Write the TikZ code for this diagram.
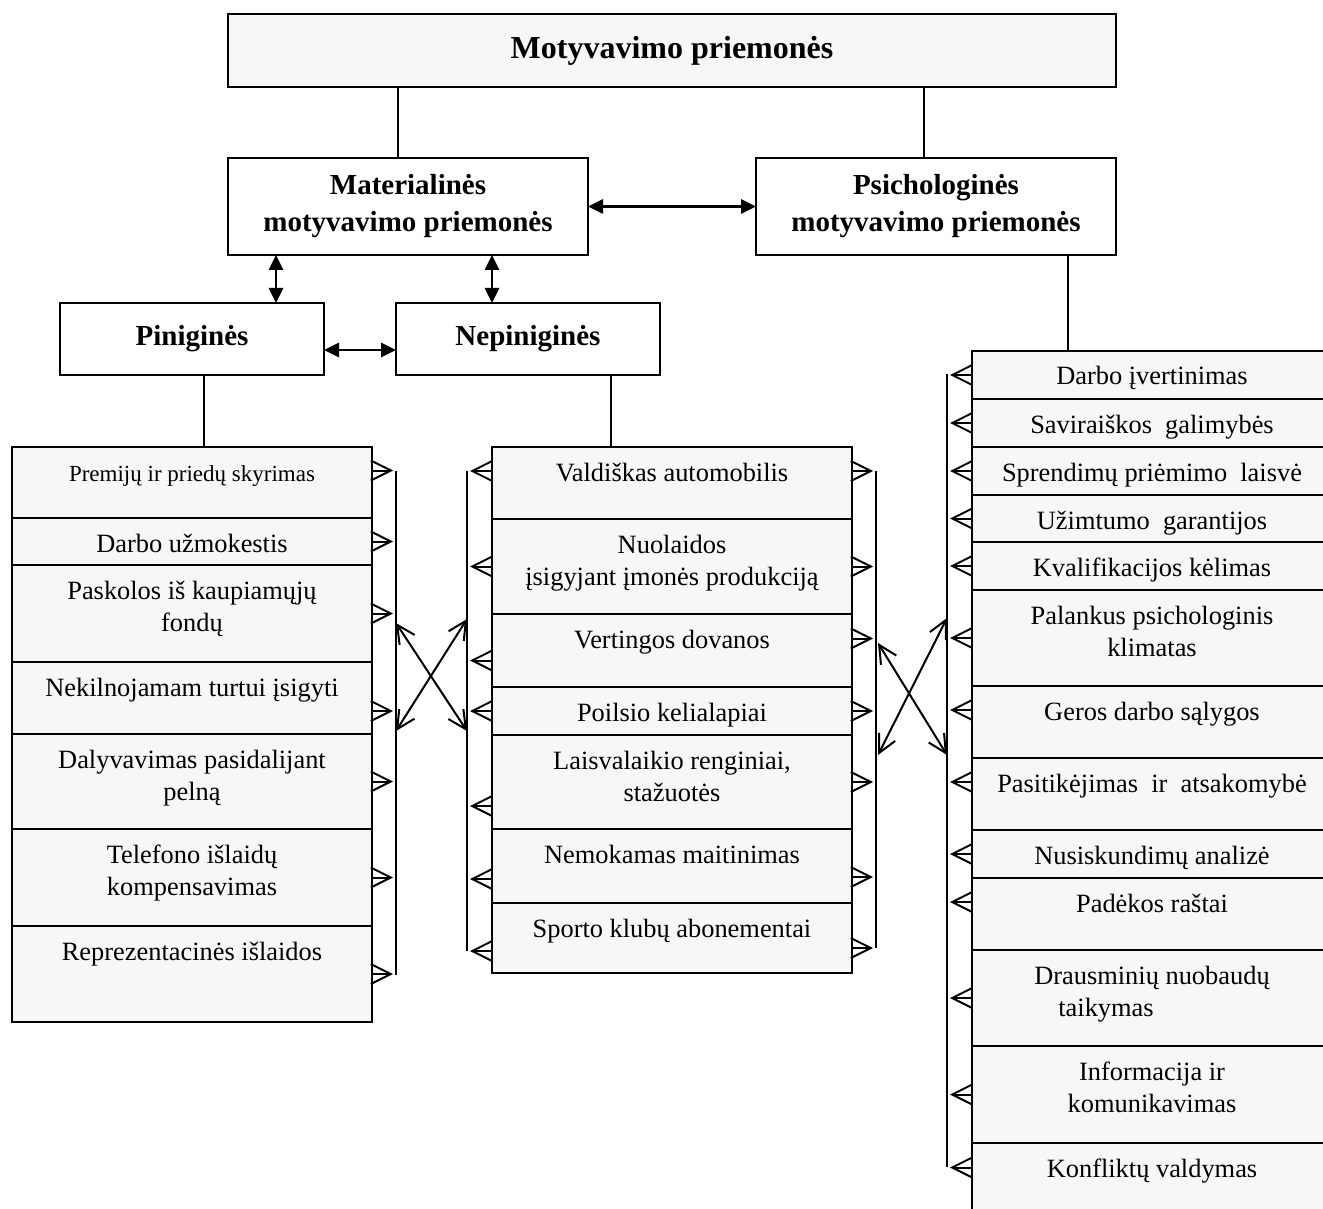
\documentclass[tikz,border=0pt]{standalone}
\usepackage{fontspec}
\setmainfont{Liberation Serif}
\usetikzlibrary{positioning,arrows.meta}
\definecolor{cellgray}{HTML}{F7F7F7}

\begin{document}
\begin{tikzpicture}[x=0.5pt, y=-0.5pt,
  head/.style={draw, line width=1pt, outer sep=0pt, align=center, font=\fontsize{14.5pt}{18.5pt}\selectfont\bfseries},
  cell/.style={draw, line width=1pt, fill=cellgray, inner sep=0pt, outer sep=0pt, anchor=north,
    font=\fontsize{13.2pt}{16pt}\selectfont,
    execute at begin node={\begin{minipage}[t][#1][t]{180pt}\centering\rule{0pt}{17pt}},
    execute at end node={\end{minipage}}},
  link/.style={line width=0.75pt},
  both/.style={{Triangle[length=7.5pt,width=7pt]}-{Triangle[length=7.5pt,width=7pt]}, line width=1.3pt},
  feed/.style={-{Straight Barb[length=10pt,width=10pt]}, line width=1pt, shorten >=1.5pt},
  cross/.style={{Straight Barb[length=9pt,width=9pt]}-{Straight Barb[length=9pt,width=9pt]}, line width=1pt},
  bus/.style={line width=1pt}]

  \useasboundingbox (0,0) rectangle (1323,1209);

  % Top levels
  \node[head, fill=cellgray, minimum width=444pt, minimum height=36.5pt, font=\fontsize{16pt}{19pt}\selectfont\bfseries] (top) at (672,50.5) {Motyvavimo priemonės};
  \node[head, minimum width=180pt, minimum height=48.5pt] (mat) at (408,206.5) {Materialinės\\motyvavimo priemonės};
  \node[head, minimum width=180pt, minimum height=48.5pt] (psi) at (936,206.5) {Psichologinės\\motyvavimo priemonės};
  \node[head, minimum width=132pt, minimum height=36pt] (pin) at (192,339) {Piniginės};
  \node[head, minimum width=132pt, minimum height=36pt] (nep) at (528,339) {Nepiniginės};

  % Piniginės column
  \node[cell=35.5pt, font=\fontsize{11.5pt}{14pt}\selectfont] (L1) at (192,447) {Premijų ir priedų skyrimas};
  \node[cell=23.5pt, below=0pt of L1] (L2) {Darbo užmokestis};
  \node[cell=48.5pt, below=0pt of L2] (L3) {Paskolos iš kaupiamųjų\\fondų};
  \node[cell=36pt, below=0pt of L3] (L4) {Nekilnojamam turtui įsigyti};
  \node[cell=47.5pt, below=0pt of L4] (L5) {Dalyvavimas pasidalijant\\pelną};
  \node[cell=48.5pt, below=0pt of L5] (L6) {Telefono išlaidų\\kompensavimas};
  \node[cell=48pt, below=0pt of L6] (L7) {Reprezentacinės išlaidos};

  % Nepiniginės column
  \node[cell=36pt] (M1) at (672,447) {Valdiškas automobilis};
  \node[cell=47.5pt, below=0pt of M1] (M2) {Nuolaidos\\įsigyjant įmonės produkciją};
  \node[cell=36.5pt, below=0pt of M2] (M3) {Vertingos dovanos};
  \node[cell=24pt, below=0pt of M3] (M4) {Poilsio kelialapiai};
  \node[cell=47pt, below=0pt of M4] (M5) {Laisvalaikio renginiai,\\stažuotės};
  \node[cell=37pt, below=0pt of M5] (M6) {Nemokamas maitinimas};
  \node[cell=35pt, below=0pt of M6] (M7) {Sporto klubų abonementai};

  % Psichologinės column
  \node[cell=24pt] (R1) at (1152,351) {Darbo įvertinimas};
  \node[cell=24pt, below=0pt of R1] (R2) {Saviraiškos\ \ galimybės};
  \node[cell=24pt, below=0pt of R2] (R3) {Sprendimų priėmimo\ \ laisvė};
  \node[cell=23.5pt, below=0pt of R3] (R4) {Užimtumo\ \ garantijos};
  \node[cell=24pt, below=0pt of R4] (R5) {Kvalifikacijos kėlimas};
  \node[cell=48pt, below=0pt of R5] (R6) {Palankus psichologinis\\klimatas};
  \node[cell=36pt, below=0pt of R6] (R7) {Geros darbo sąlygos};
  \node[cell=36pt, below=0pt of R7] (R8) {Pasitikėjimas\ \ ir\ \ atsakomybė};
  \node[cell=24pt, below=0pt of R8] (R9) {Nusiskundimų analizė};
  \node[cell=36pt, below=0pt of R9] (R10) {Padėkos raštai};
  \node[cell=48pt, below=0pt of R10] (R11) {Drausminių nuobaudų\\taikymas\hspace*{46pt}\mbox{}};
  \node[cell=48.5pt, below=0pt of R11] (R12) {Informacija ir\\komunikavimas};
  \node[cell=36.5pt, below=0pt of R12] (R13) {Konfliktų valdymas};

  % Tree lines
  \draw[link] ([xshift=-5pt]mat.north) -- ([xshift=-5pt]mat.north |- top.south);
  \draw[link] ([xshift=-6pt]psi.north) -- ([xshift=-6pt]psi.north |- top.south);
  \draw[link] ([xshift=66pt]psi.south) -- ([xshift=66pt]psi.south |- R1.north);
  \draw[link] ([xshift=6pt]pin.south) -- ([xshift=6pt]pin.south |- L1.north);
  \draw[link] ([xshift=41.5pt]nep.south) -- ([xshift=41.5pt]nep.south |- M1.north);

  % Double arrows
  \draw[both] (mat.east) -- (psi.west);
  \draw[both] ([xshift=42pt]pin.north) -- ([xshift=42pt]pin.north |- mat.south);
  \draw[both] ([xshift=-18pt]nep.north) -- ([xshift=-18pt]nep.north |- mat.south);
  \draw[both] ([yshift=-5.5pt]pin.east) -- ([yshift=-5.5pt]pin.east -| nep.west);

  % Buses
  \coordinate (lbusT) at (396,471);
  \coordinate (lbusB) at (396,975);
  \coordinate (mlbusT) at (467,471);
  \coordinate (mlbusB) at (467,951);
  \coordinate (mrbusT) at (876,471);
  \coordinate (mrbusB) at (876,948);
  \coordinate (rbusT) at (947,374);
  \coordinate (rbusB) at (947,1167);
  \draw[bus] (lbusT) -- (lbusB);
  \draw[bus] (mlbusT) -- (mlbusB);
  \draw[bus] (mrbusT) -- (mrbusB);
  \draw[bus] (rbusT) -- (rbusB);

  % Left arrows
  \draw[feed] ([yshift=6pt]L1.east) -- ([yshift=6pt]L1.east -| lbusT);
  \draw[feed] (L2.east) -- (L2.east -| lbusT);
  \draw[feed] (L3.east) -- (L3.east -| lbusT);
  \draw[feed] ([yshift=-6.5pt]L4.east) -- ([yshift=-6.5pt]L4.east -| lbusT);
  \draw[feed] (L5.east) -- (L5.east -| lbusT);
  \draw[feed] (L6.east) -- (L6.east -| lbusT);
  \draw[feed] (L7.east) -- (L7.east -| lbusT);

  % Middle arrows, left side
  \draw[feed] ([yshift=6pt]M1.west) -- ([yshift=6pt]M1.west -| mlbusT);
  \draw[feed] (M2.west) -- (M2.west -| mlbusT);
  \draw[feed] ([yshift=-5pt]M3.west) -- ([yshift=-5pt]M3.west -| mlbusT);
  \draw[feed] (M4.west) -- (M4.west -| mlbusT);
  \draw[feed] ([yshift=-12pt]M5.west) -- ([yshift=-12pt]M5.west -| mlbusT);
  \draw[feed] ([yshift=-6.5pt]M6.west) -- ([yshift=-6.5pt]M6.west -| mlbusT);
  \draw[feed] ([yshift=-6.5pt]M7.west) -- ([yshift=-6.5pt]M7.west -| mlbusT);

  % Middle arrows, right side
  \draw[feed] ([yshift=6pt]M1.east) -- ([yshift=6pt]M1.east -| mrbusT);
  \draw[feed] (M2.east) -- (M2.east -| mrbusT);
  \draw[feed] ([yshift=6pt]M3.east) -- ([yshift=6pt]M3.east -| mrbusT);
  \draw[feed] (M4.east) -- (M4.east -| mrbusT);
  \draw[feed] (M5.east) -- (M5.east -| mrbusT);
  \draw[feed] ([yshift=-5.5pt]M6.east) -- ([yshift=-5.5pt]M6.east -| mrbusT);
  \draw[feed] ([yshift=-5pt]M7.east) -- ([yshift=-5pt]M7.east -| mrbusT);

  % Right arrows
  \draw[feed] (R1.west) -- (R1.west -| rbusT);
  \draw[feed] (R2.west) -- (R2.west -| rbusT);
  \draw[feed] (R3.west) -- (R3.west -| rbusT);
  \draw[feed] (R4.west) -- (R4.west -| rbusT);
  \draw[feed] (R5.west) -- (R5.west -| rbusT);
  \draw[feed] (R6.west) -- (R6.west -| rbusT);
  \draw[feed] ([yshift=6pt]R7.west) -- ([yshift=6pt]R7.west -| rbusT);
  \draw[feed] ([yshift=6pt]R8.west) -- ([yshift=6pt]R8.west -| rbusT);
  \draw[feed] (R9.west) -- (R9.west -| rbusT);
  \draw[feed] ([yshift=6pt]R10.west) -- ([yshift=6pt]R10.west -| rbusT);
  \draw[feed] (R11.west) -- (R11.west -| rbusT);
  \draw[feed] (R12.west) -- (R12.west -| rbusT);
  \draw[feed] ([yshift=6pt]R13.west) -- ([yshift=6pt]R13.west -| rbusT);

  % Crossed links between buses
  \coordinate (lx1) at (396,623);
  \coordinate (lx2) at (467,731);
  \coordinate (lx3) at (396,731);
  \coordinate (lx4) at (467,619);
  \coordinate (rx1) at (878,643);
  \coordinate (rx2) at (947,755);
  \coordinate (rx3) at (878,755);
  \coordinate (rx4) at (947,618);
  \draw[cross] (lx1) -- (lx2);
  \draw[cross] (lx3) -- (lx4);
  \draw[cross] (rx1) -- (rx2);
  \draw[cross] (rx3) -- (rx4);

\end{tikzpicture}
\end{document}
